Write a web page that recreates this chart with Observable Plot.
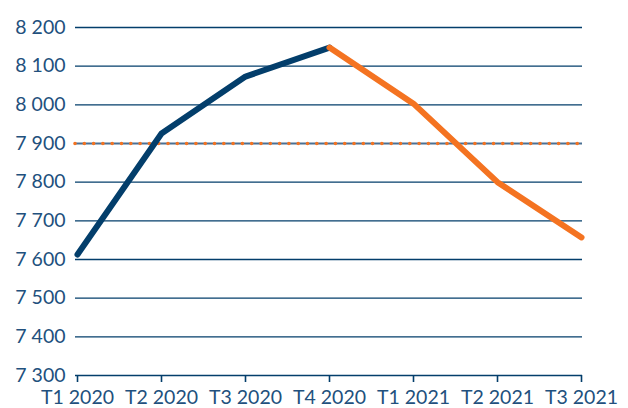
<!DOCTYPE html>
<html>
<head>
<meta charset="utf-8">
<script src="https://cdn.jsdelivr.net/npm/d3@7"></script>
<script src="https://cdn.jsdelivr.net/npm/@observablehq/plot@0.6"></script>
<style>
  html, body { margin: 0; padding: 0; background: #fff; }
  #chart svg { display: block; }
</style>
</head>
<body>
<div id="chart"></div>
<script>
const quarters = ["T1 2020", "T2 2020", "T3 2020", "T4 2020", "T1 2021", "T2 2021", "T3 2021"];
const actual = [7613, 7926, 8073, 8148, null, null, null];
const forecast = [null, null, null, 8148, 8003, 7800, 7657];
const reference = 7900;
const yTicks = [7300, 7400, 7500, 7600, 7700, 7800, 7900, 8000, 8100, 8200];

const blue = "#033e6b";
const orange = "#f47321";
const textColor = "#22507d";

const actualData = quarters.map((q, i) => ({q, v: actual[i]})).filter(d => d.v != null);
const forecastData = quarters.map((q, i) => ({q, v: forecast[i]})).filter(d => d.v != null);

const fmt = d => d3.format(",")(d).replace(",", " ");

const chart = Plot.plot({
  width: 628,
  height: 408,
  marginLeft: 75,
  marginRight: 46,
  marginTop: 27,
  marginBottom: 33,
  style: { fontFamily: "Lato, sans-serif", fontSize: "19.5px", color: textColor, background: "#fff" },
  x: { type: "point", domain: quarters, padding: 0, label: null },
  y: { domain: [7300, 8200], label: null },
  marks: [
    Plot.ruleY(yTicks.filter(t => t !== reference && t !== 7300), { stroke: blue, strokeWidth: 1.3 }),
    Plot.ruleY([reference], { stroke: "#4a7094", strokeWidth: 2.2 }),
    Plot.ruleY([reference], { stroke: orange, strokeWidth: 3.6, strokeDasharray: "0,9.3", strokeLinecap: "round" }),
    Plot.axisY({ ticks: yTicks, tickSize: 0, tickPadding: 10, tickFormat: fmt, fill: textColor, fontSize: 19.5 }),
    Plot.ruleY([7300], { stroke: blue, strokeWidth: 1.6 }),
    Plot.axisX({ tickSize: 7, tickPadding: 8, stroke: blue, strokeWidth: 1.6, fill: textColor, fontSize: 19.5 }),
    Plot.line(actualData, { x: "q", y: "v", stroke: blue, strokeWidth: 6, strokeLinejoin: "round", strokeLinecap: "round" }),
    Plot.line(forecastData, { x: "q", y: "v", stroke: orange, strokeWidth: 6, strokeLinejoin: "round", strokeLinecap: "round" })
  ]
});
document.getElementById("chart").appendChild(chart);
</script>
</body>
</html>
